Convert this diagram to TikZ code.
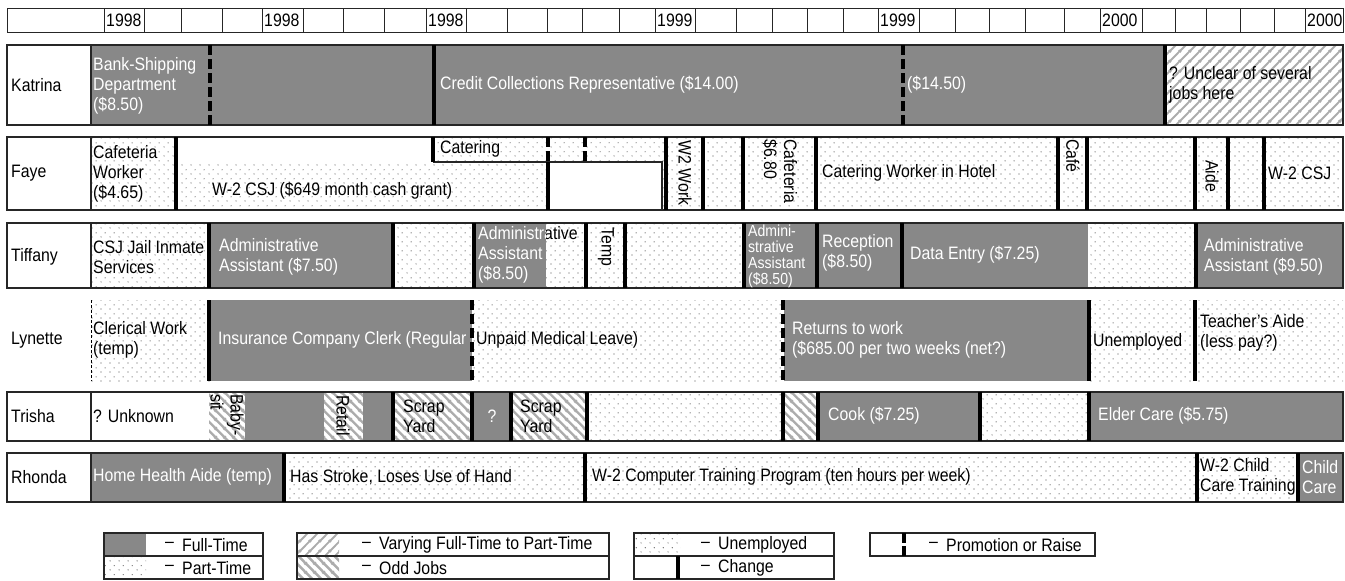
\documentclass[tikz,border=0pt]{standalone}
\usepackage{fontspec}
\setmainfont{Liberation Sans}[FakeStretch=0.88]
\usetikzlibrary{patterns}

\definecolor{fullgray}{RGB}{136,136,136}
\definecolor{hatchgray}{RGB}{172,172,172}
\definecolor{dotgray}{RGB}{80,80,80}
\newcommand\fs{\fontsize{18}{20}\selectfont}

\pgfdeclarepatternformonly{sparsedots}{\pgfqpoint{0pt}{0pt}}{\pgfqpoint{9pt}{9pt}}{\pgfqpoint{9pt}{9pt}}{%
  \pgfpathcircle{\pgfqpoint{2.25pt}{2.25pt}}{0.65pt}%
  \pgfpathcircle{\pgfqpoint{6.75pt}{6.75pt}}{0.65pt}%
  \pgfusepath{fill}}
\pgfdeclarepatternformonly{hatchne}{\pgfqpoint{0pt}{0pt}}{\pgfqpoint{10pt}{10pt}}{\pgfqpoint{10pt}{10pt}}{%
  \pgfsetlinewidth{2pt}%
  \pgfpathmoveto{\pgfqpoint{-1pt}{-1pt}}\pgfpathlineto{\pgfqpoint{11pt}{11pt}}%
  \pgfpathmoveto{\pgfqpoint{-1pt}{9pt}}\pgfpathlineto{\pgfqpoint{1pt}{11pt}}%
  \pgfpathmoveto{\pgfqpoint{9pt}{-1pt}}\pgfpathlineto{\pgfqpoint{11pt}{1pt}}%
  \pgfusepath{stroke}}
\pgfdeclarepatternformonly{hatchnw}{\pgfqpoint{0pt}{0pt}}{\pgfqpoint{9pt}{9pt}}{\pgfqpoint{9pt}{9pt}}{%
  \pgfsetlinewidth{2.6pt}%
  \pgfpathmoveto{\pgfqpoint{-1pt}{10pt}}\pgfpathlineto{\pgfqpoint{10pt}{-1pt}}%
  \pgfpathmoveto{\pgfqpoint{-1pt}{1pt}}\pgfpathlineto{\pgfqpoint{1pt}{-1pt}}%
  \pgfpathmoveto{\pgfqpoint{8pt}{10pt}}\pgfpathlineto{\pgfqpoint{10pt}{8pt}}%
  \pgfusepath{stroke}}

\begin{document}
\begin{tikzpicture}[x=1pt,y=-1pt,
  frame/.style={line width=1.1pt,draw=black!85},
  hdr/.style={line width=0.9pt,draw=black!85},
  full/.style={fill=fullgray},
  part/.style={pattern=sparsedots,pattern color=dotgray},
  vary/.style={pattern=hatchne,pattern color=hatchgray},
  oddjob/.style={pattern=hatchnw,pattern color=hatchgray},
  chg/.style={line width=4.5pt},
  promo/.style={line width=4.5pt,dash pattern=on 10pt off 4pt},
  txt/.style={font=\fs,anchor=west,inner sep=0pt,align=left},
  wtxt/.style={txt,text=white},
  vtxt/.style={font=\fs,rotate=-90,inner sep=0pt,align=left}]
\useasboundingbox (0,0) rectangle (1345,581);

% time line
\draw[hdr] (7,8) rectangle (1343,32);
\foreach \x in {104,144,181,222,262,303,343,384,426,466,507,547,582,619,655,695,736,772,807,843,878,919,955,989,1025,1064,1100,1142,1175,1206,1240,1274,1305}
  \draw[hdr] (\x,8) -- (\x,32);
\foreach \x/\yr in {104/1998,262/1998,426/1998,655/1999,878/1999,1100/2000,1305/2000}
  \node[txt] (yr\x) at (\x+2,20) {\yr};

% Katrina
\fill[full] (91,45) rectangle (1165,125);
\fill[vary] (1165,45) rectangle (1343,125);
\draw[frame] (7,45) rectangle (1343,125); \draw[frame] (91,45) -- (91,125);
\foreach \x in {434,1165} \draw[chg] (\x,45) -- (\x,125);
\foreach \x in {210,903} \draw[promo] (\x,45) -- (\x,125);
\node[txt] (katN) at (11,85) {Katrina};
\node[wtxt] (kat1) at (93,86) {Bank-Shipping\\Department\\(\$8.50)};
\node[wtxt] (kat2) at (440,85) {Credit Collections Representative (\$14.00)};
\node[wtxt] (kat3) at (907,85) {(\$14.50)};
\node[txt] (kat4) at (1169,85) {? Unclear of several\\jobs here};

% Faye
\fill[part] (91,137) rectangle (176,210);
\fill[part] (176,162) rectangle (548,210);
\fill[part] (433,137) rectangle (662,162);
\fill[part] (662,137) rectangle (1343,210);
\draw[frame] (7,137) rectangle (1343,210); \draw[frame] (91,137) -- (91,210);
\draw[frame] (433,162) -- (662,162) -- (662,210);
\draw[chg] (176,137) -- (176,210);
\draw[chg] (433,137) -- (433,162);
\draw[chg] (548,162) -- (548,210);
\foreach \x in {548,585} \draw[promo] (\x,137) -- (\x,162);
\foreach \x in {666,703,743,816,1058,1087,1195,1228,1264} \draw[chg] (\x,137) -- (\x,210);
\node[txt] (fayN) at (11,173) {Faye};
\node[txt] (fay1) at (93,174) {Cafeteria\\Worker\\(\$4.65)};
\node[txt] (fay2) at (212,191) {W-2 CSJ (\$649 month cash grant)};
\node[txt] (fay3) at (440,149) {Catering};
\node[vtxt] (fay4) at (685,173) {W2 Work};
\node[vtxt,anchor=west] (fay5) at (780,139) {Cafeteria\\\$6.80};
\node[txt] (fay6) at (822,173) {Catering Worker in Hotel};
\node[vtxt,anchor=west] (fay7) at (1073,139) {Café};
\node[vtxt] (fay8) at (1212,176) {Aide};
\node[txt] (fay9) at (1268,173) {W-2 CSJ};

% Tiffany
\foreach \a/\b/\s in {91/211/part,211/393/full,393/476/part,476/546/full,546/746/part,746/1088/full,1088/1196/part,1196/1343/full}
  \fill[\s] (\a,223) rectangle (\b,288);
\draw[frame] (7,223) rectangle (1343,288); \draw[frame] (91,223) -- (91,288);
\foreach \x in {209,393,474,586,625,744,817,902,1196} \draw[chg] (\x,223) -- (\x,288);
\node[txt] (tifN) at (11,257) {Tiffany};
\node[txt] (tif1) at (93,257) {CSJ Jail Inmate\\Services};
\node[wtxt] (tif2) at (219,257) {Administrative\\Assistant (\$7.50)};
\begin{scope}
  \clip (476,223) rectangle (546,288);
  \node[wtxt] (tif3) at (478,255) {Administrative\\Assistant\\(\$8.50)};
\end{scope}
\begin{scope}
  \clip (546,223) rectangle (584,288);
  \node[txt] (tif3b) at (478,255) {Administrative\\Assistant\\(\$8.50)};
\end{scope}
\node[vtxt] (tif4) at (606,247) {Temp};
\node[wtxt,font=\fontsize{16}{16}\selectfont] (tif5) at (748,256) {Admini-\\strative\\Assistant\\(\$8.50)};
\node[wtxt] (tif6) at (822,253) {Reception\\(\$8.50)};
\node[wtxt] (tif7) at (910,255) {Data Entry (\$7.25)};
\node[wtxt] (tif8) at (1204,257) {Administrative\\Assistant (\$9.50)};

% Lynette
\foreach \a/\b/\s in {91/211/part,211/472/full,472/784/part,784/1090/full,1090/1343/part}
  \fill[\s] (\a,300) rectangle (\b,381);
\draw[densely dashed,line width=0.8pt] (91,300) -- (91,381);
\foreach \x in {209,1089,1195} \draw[chg] (\x,300) -- (\x,381);
\foreach \x in {472,783} \draw[promo] (\x,300) -- (\x,381);
\node[txt] (lynN) at (11,340) {Lynette};
\node[txt] (lyn1) at (93,340) {Clerical Work\\(temp)};
\node[wtxt] (lyn2) at (218,340) {Insurance Company Clerk (Regular};
\node[txt] (lyn3) at (476,340) {Unpaid Medical Leave)};
\node[wtxt] (lyn4) at (792,340) {Returns to work\\(\$685.00 per two weeks (net?)};
\node[txt] (lyn5) at (1093,342) {Unemployed};
\node[txt] (lyn6) at (1200,333) {Teacher's Aide\\(less pay?)};

% Trisha
\foreach \a/\b/\s in {209/245/oddjob,245/324/full,324/363/oddjob,363/393/full,393/472/oddjob,472/511/full,511/587/oddjob,587/783/part,783/818/oddjob,818/980/full,980/1089/part,1089/1343/full}
  \fill[\s] (\a,392) rectangle (\b,441);
\draw[frame] (7,392) rectangle (1343,441); \draw[frame] (91,392) -- (91,441);
\foreach \x in {393,472,511,587,783,818,980,1089} \draw[chg] (\x,392) -- (\x,441);
\node[txt] (triN) at (11,416) {Trisha};
\node[txt] (tri1) at (93,416) {? Unknown};
\node[vtxt,anchor=west] (tri2) at (227,394) {Baby-\\sit};
\node[vtxt,anchor=west] (tri3) at (343,395) {Retail};
\node[txt] (tri4) at (403,416) {Scrap\\Yard};
\node[font=\fs,inner sep=0pt,text=white] (tri5) at (492,416) {?};
\node[txt] (tri6) at (520,416) {Scrap\\Yard};
\node[wtxt] (tri7) at (828,416) {Cook (\$7.25)};
\node[wtxt] (tri8) at (1098,416) {Elder Care (\$5.75)};

% Rhonda
\foreach \a/\b/\s in {91/284/full,284/1298/part,1298/1343/full}
  \fill[\s] (\a,453) rectangle (\b,502);
\draw[frame] (7,453) rectangle (1343,502); \draw[frame] (91,453) -- (91,502);
\foreach \x in {284,585,1197,1298} \draw[chg] (\x,453) -- (\x,502);
\node[txt] (rhoN) at (11,477) {Rhonda};
\node[wtxt] (rho1) at (93,477) {Home Health Aide (temp)};
\node[txt] (rho2) at (290,477) {Has Stroke, Loses Use of Hand};
\node[txt] (rho3) at (592,477) {W-2 Computer Training Program (ten hours per week)};
\node[txt] (rho4) at (1200,477) {W-2 Child\\Care Training};
\node[wtxt] (rho5) at (1302,477) {Child\\Care};

% legend
\fill[full] (104,533) rectangle (146,556);
\fill[part] (104,556) rectangle (146,579);
\fill[vary] (297,533) rectangle (339,556);
\fill[oddjob] (297,556) rectangle (339,579);
\fill[part] (634,533) rectangle (680,556);
\foreach \a/\b in {104/263,297/609,634/834}
  {\draw[frame] (\a,533) rectangle (\b,579); \draw[frame] (\a,556) -- (\b,556);}
\draw[frame] (870,533) rectangle (1095,556);
\draw[chg] (678,556) -- (678,579);
\draw[promo,dash pattern=on 10pt off 3pt] (904,533) -- (904,556);
\foreach \x/\y/\t/\n in {165/545/Full-Time/lgA,165/568/Part-Time/lgB,362/545/Varying Full-Time to Part-Time/lgC,362/568/Odd Jobs/lgD,701/545/Unemployed/lgE,701/568/Change/lgF,929/545/Promotion or Raise/lgG}
  {\node[txt] (\n d) at (\x,\y) {--}; \node[txt] (\n) at (\x+17,\y) {\t};}
\end{tikzpicture}
\end{document}
